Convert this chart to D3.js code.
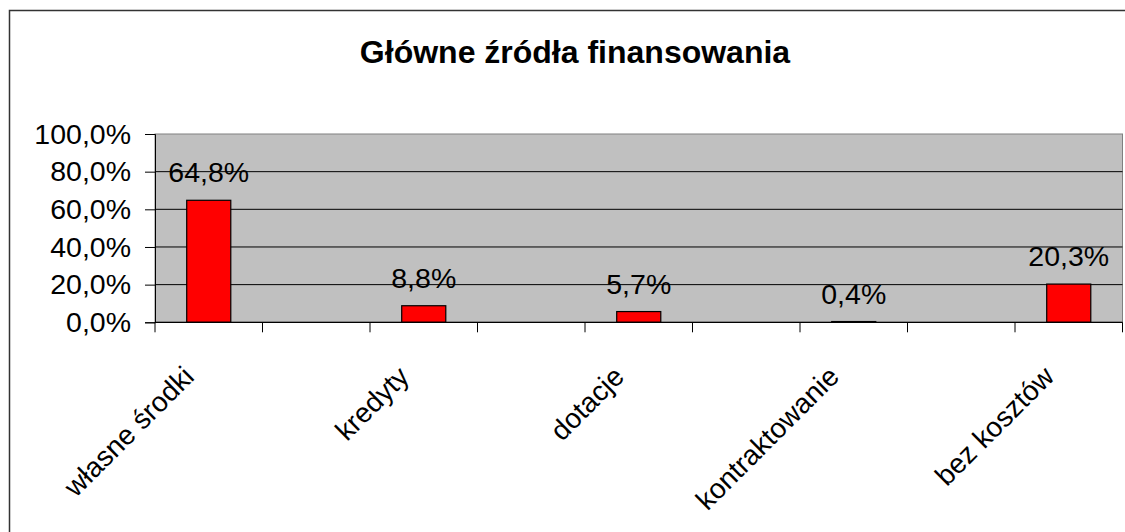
<!DOCTYPE html>
<html><head><meta charset="utf-8">
<script src="https://cdn.jsdelivr.net/npm/d3@7"></script>
<style>
html,body{margin:0;padding:0;background:#fff;}
svg{display:block;font-family:"Liberation Sans",Arial,sans-serif;}
</style></head>
<body>
<svg id="chart" width="1125" height="532"></svg>
<script>
const title = "Główne źródła finansowania";
const slots = ["c1","g1","c2","g2","c3","g3","c4","g4","c5"];
const categories = ["własne środki","","kredyty","","dotacje","","kontraktowanie","","bez kosztów"];
const values = [64.8, null, 8.8, null, 5.7, null, 0.4, null, 20.3];
const yTicks = [0, 20, 40, 60, 80, 100];

const loc = d3.formatLocale({decimal: ",", thousands: " ", grouping: [3], currency: ["", ""]});
const f1 = loc.format(".1f");

const svg = d3.select("#chart");
const m = {left: 155, top: 134, right: 1122.5, bottom: 322.3};

// outer chart border
svg.append("rect").attr("x", 9.5).attr("y", 10.5).attr("width", 1200).attr("height", 600)
  .attr("fill", "#fff").attr("stroke", "#333").attr("stroke-width", 1.5);

svg.append("text").attr("x", 575).attr("y", 63).attr("text-anchor", "middle")
  .attr("font-weight", "bold").attr("font-size", 32).attr("fill", "#000").text(title);

const x = d3.scaleBand().domain(slots).range([m.left, m.right]).paddingInner(0).paddingOuter(0);
const y = d3.scaleLinear().domain([0, 100]).range([m.bottom, m.top]);

// plot area
svg.append("rect").attr("x", m.left).attr("y", m.top).attr("width", m.right - m.left).attr("height", m.bottom - m.top)
  .attr("fill", "#c0c0c0").attr("stroke", "#808080").attr("stroke-width", 1);

// gridlines
svg.append("g").selectAll("line").data(yTicks.filter(d => d > 0 && d < 100)).join("line")
  .attr("x1", m.left).attr("x2", m.right).attr("y1", d => y(d)).attr("y2", d => y(d))
  .attr("stroke", "#000").attr("stroke-width", 1);

// bars
const data = slots.map((s, i) => ({slot: s, label: categories[i], v: values[i]})).filter(d => d.v !== null);
svg.append("g").selectAll("rect").data(data).join("rect")
  .attr("x", d => x(d.slot) + x.bandwidth() * 0.295)
  .attr("width", x.bandwidth() * 0.41)
  .attr("y", d => y(d.v))
  .attr("height", d => y(0) - y(d.v))
  .attr("fill", "#ff0000").attr("stroke", "#000").attr("stroke-width", 1.2);

// data labels
svg.append("g").selectAll("text").data(data).join("text")
  .attr("x", d => x(d.slot) + x.bandwidth() / 2)
  .attr("y", d => y(d.v) - 18)
  .attr("text-anchor", "middle").attr("font-size", 28.5).attr("fill", "#000")
  .text(d => f1(d.v) + "%");

// y axis
const yAxis = d3.axisLeft(y).tickValues(yTicks).tickSize(10).tickPadding(14)
  .tickFormat(d => f1(d) + "%");
const gy = svg.append("g").attr("transform", `translate(${m.left},0)`).call(yAxis);
gy.select(".domain").attr("stroke", "#000");
gy.selectAll(".tick line").attr("stroke", "#000");
gy.selectAll(".tick text").attr("font-size", 28.5).attr("font-family", "Liberation Sans, Arial, sans-serif").attr("fill", "#000");

// x axis
const bounds = slots.map(s => x(s)).concat([m.right]);
const gx = svg.append("g");
gx.append("line").attr("x1", m.left).attr("x2", m.right).attr("y1", m.bottom).attr("y2", m.bottom)
  .attr("stroke", "#000").attr("stroke-width", 1.2);
gx.selectAll("line.tk").data(bounds).join("line").attr("class", "tk")
  .attr("x1", d => d).attr("x2", d => d).attr("y1", m.bottom).attr("y2", m.bottom + 10)
  .attr("stroke", "#000");
gx.selectAll("text").data(data).join("text")
  .attr("transform", d => `translate(${x(d.slot) + x.bandwidth() / 2 - 13},${m.bottom + 56}) rotate(-45)`)
  .attr("text-anchor", "end").attr("font-size", 28).attr("fill", "#000")
  .text(d => d.label);
</script>
</body></html>
